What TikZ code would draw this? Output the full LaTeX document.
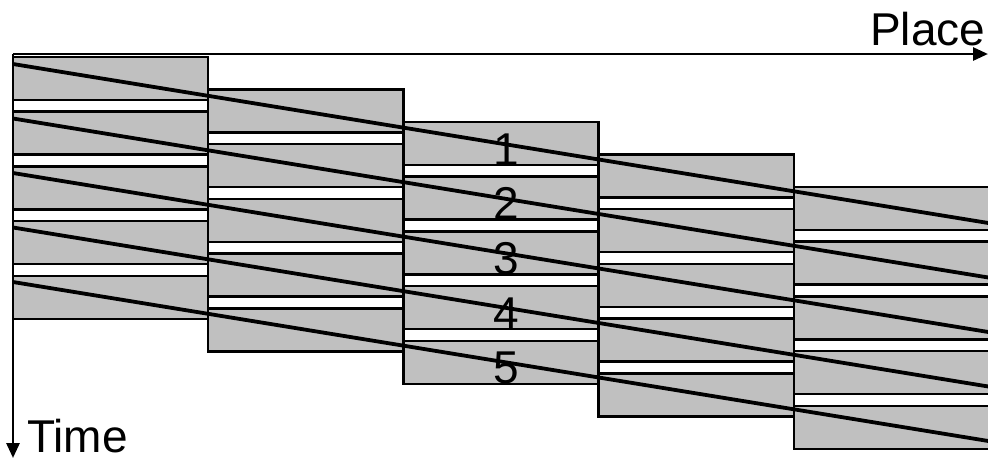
\documentclass[tikz,border=0pt]{standalone}
\usepackage{fontspec}
\setmainfont{Liberation Sans}
\usetikzlibrary{arrows.meta}
\definecolor{blockgrey}{RGB}{192,192,192}
\tikzset{
  colframe/.style={draw=black, fill=white, line width=2.5pt},
  greyblock/.style={draw=black, fill=blockgrey, line width=2.5pt},
  flowline/.style={draw=black, line width=3.8pt},
  axisline/.style={draw=black, line width=2.8pt, -{Triangle[length=15pt,width=13pt]}},
  bigtext/.style={inner sep=0pt, font=\fontsize{46}{50}\selectfont}
}
\begin{document}
\begin{tikzpicture}[x=1pt,y=-1pt]
\useasboundingbox (0,0) rectangle (988,459);
% columns
\foreach \i in {0,...,4}{
  \pgfmathsetmacro{\xl}{13+195.2*\i}
  \pgfmathsetmacro{\xr}{13+195.2*(\i+1)+(\i==4?10:0)}
  \pgfmathsetmacro{\tp}{57+32.5*\i}
  \draw[colframe] (\xl,\tp) rectangle (\xr,\tp+261.8);
  \foreach \j in {0,...,4}{
    \draw[greyblock] (\xl,\tp+54.7*\j) rectangle (\xr,\tp+54.7*\j+43);
  }
}
% flow lines
\foreach \k in {0,...,4}{
  \coordinate (s\k) at (13,64+54.5*\k);
  \coordinate (e\k) at (992,223.6+54.5*\k);
  \draw[flowline] (s\k) -- (e\k);
}
% numbers
\foreach \n [count=\c from 0] in {1,...,5}{
  \node[bigtext, anchor=base] (num\n) at (506,165+54.7*\c) {\n};
}
% axes
\coordinate (origin) at (13,54);
\coordinate (placeend) at (988,54);
\coordinate (timeend) at (13,458);
\draw[axisline] (origin) -- (placeend);
\draw[axisline] (origin) -- (timeend);
\node[bigtext, anchor=base west] (place) at (870,45.7) {Place};
\node[bigtext, anchor=base west] (time) at (27,452) {Time};
\end{tikzpicture}
\end{document}
